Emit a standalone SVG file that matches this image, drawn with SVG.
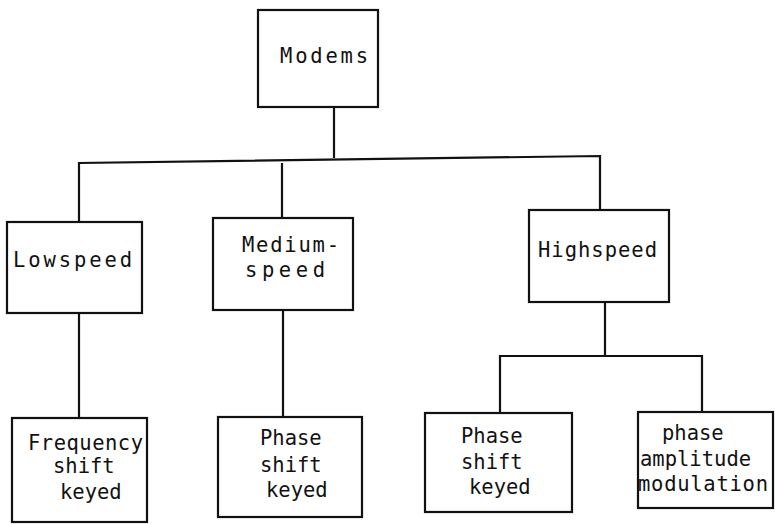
<svg xmlns="http://www.w3.org/2000/svg" width="775" height="524" viewBox="0 0 775 524">
<style>
.box{fill:#fff;stroke:#111;stroke-width:2.2}
.ln{fill:none;stroke:#111;stroke-width:2.2}
text{font-family:"DejaVu Sans Mono","Liberation Mono",monospace;font-size:20.5px;fill:#111}
</style>
<rect width="775" height="524" fill="#fff"/>
<g id="connectors">
<path class="ln" d="M334 107 V158"/>
<path class="ln" d="M79 222 V163 L600 156 V210"/>
<path class="ln" d="M282 163 V218"/>
<path class="ln" d="M79 313 V418"/>
<path class="ln" d="M283 310 V417"/>
<path class="ln" d="M605 302 V355"/>
<path class="ln" d="M500 413 V356 H702 V412"/>
</g>
<g id="modems">
<rect class="box" x="258" y="10" width="120" height="97"/>
<text x="280" y="63" textLength="88">Modems</text>
</g>
<g id="lowspeed">
<rect class="box" x="7" y="222" width="135" height="91"/>
<text x="13" y="267" textLength="119">Lowspeed</text>
</g>
<g id="mediumspeed">
<rect class="box" x="213" y="218" width="140" height="92"/>
<text x="242" y="252" textLength="97">Medium-</text>
<text x="245" y="277" textLength="80">speed</text>
</g>
<g id="highspeed">
<rect class="box" x="529" y="210" width="140" height="92"/>
<text x="538" y="257" textLength="119">Highspeed</text>
</g>
<g id="fsk">
<rect class="box" x="12" y="418" width="135" height="104"/>
<text x="28" y="450" textLength="115">Frequency</text>
<text x="53" y="473">shift</text>
<text x="60" y="499">keyed</text>
</g>
<g id="psk1">
<rect class="box" x="218" y="417" width="144" height="100"/>
<text x="260" y="445">Phase</text>
<text x="260" y="472">shift</text>
<text x="266" y="497">keyed</text>
</g>
<g id="psk2">
<rect class="box" x="425" y="413" width="147" height="99"/>
<text x="461" y="443">Phase</text>
<text x="461" y="469">shift</text>
<text x="469" y="494">keyed</text>
</g>
<g id="pam">
<rect class="box" x="638" y="412" width="135" height="96"/>
<text x="662" y="440">phase</text>
<text x="640" y="466">amplitude</text>
<text x="638" y="491" textLength="130">modulation</text>
</g>
</svg>
